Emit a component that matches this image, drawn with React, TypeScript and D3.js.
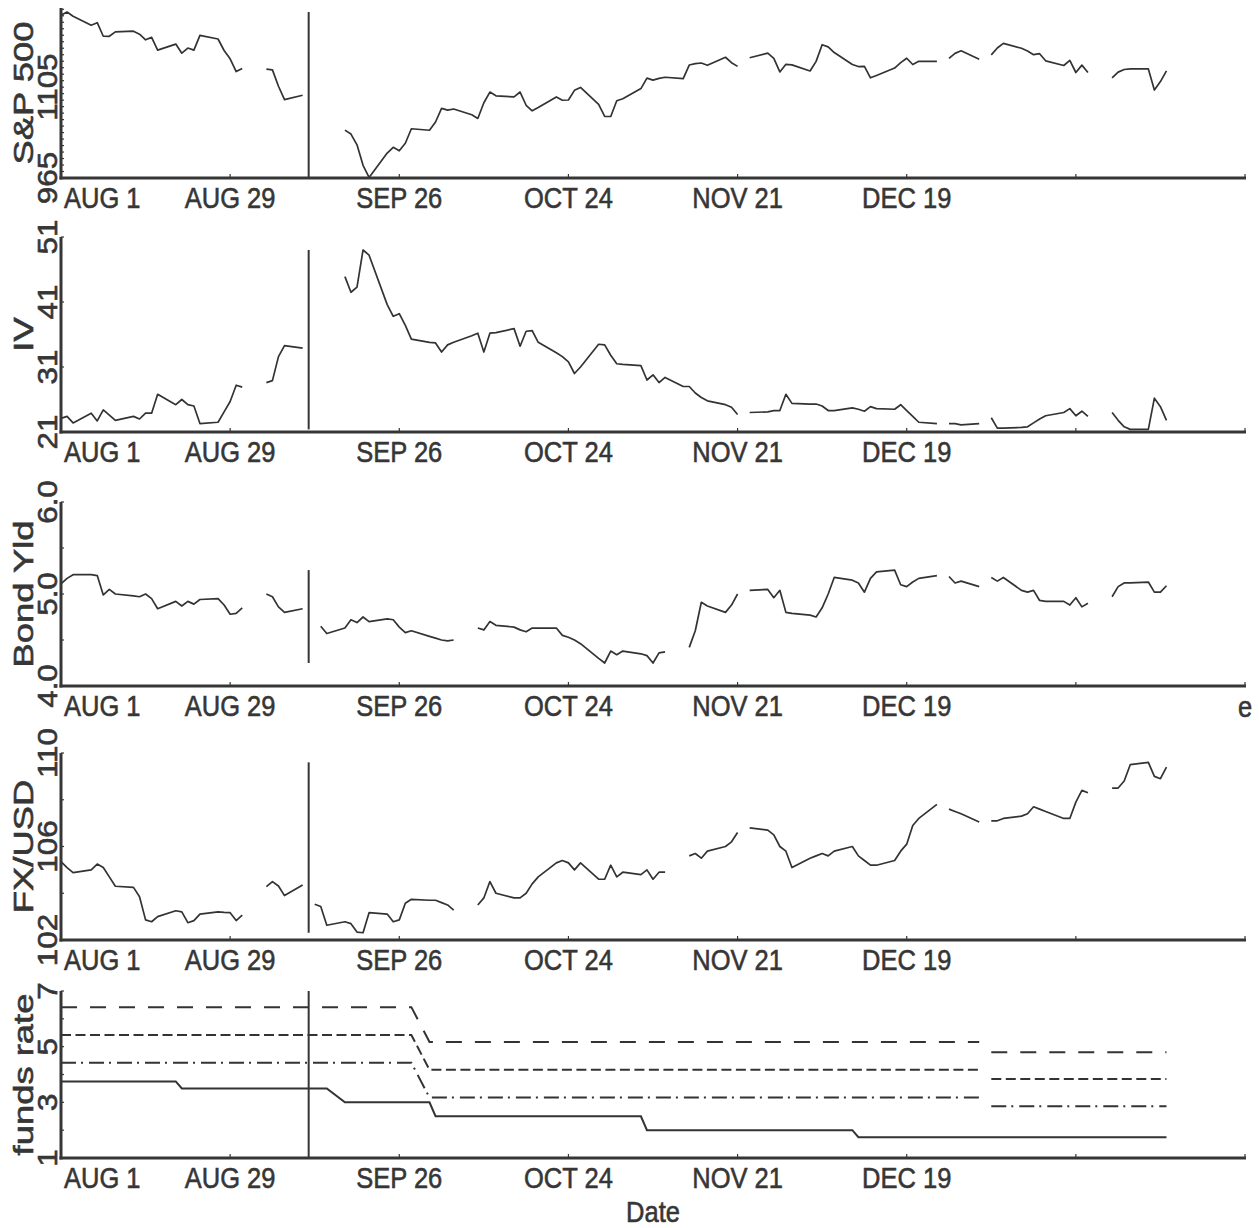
import React from "react";
import * as d3 from "d3";

const W = 1259;
const H = 1228;
const INK = "#363636";
const FONT = "'Liberation Sans', Arial, sans-serif";

// one slot per weekday, Aug 1 2001 .. Jan 31 2002; null = market closed
const spxAug = [1215.9, 1220.8, 1214.4, 1200.5, 1204.4, 1183.5, 1183.4, 1190.2, 1191.3, 1186.7, 1178.0, 1181.7, 1162.0, 1171.4, 1157.3, 1165.3, 1162.1, 1184.9, 1179.2, 1161.5, 1148.6, 1129.0, 1133.6];
const spxSep = [null, 1132.9, 1131.7, 1106.4, 1085.8, 1092.5, null, null, null, null, 1038.8, 1032.7, 1016.1, 984.5, 965.8, 1003.4, 1012.3, 1007.0, 1018.6, 1040.9];
const spxOct = [1038.6, 1051.3, 1072.3, 1069.6, 1071.4, 1062.4, 1056.8, 1081.0, 1097.4, 1091.7, 1090.0, 1097.5, 1077.1, 1068.6, 1073.5, 1089.9, 1084.8, 1085.2, 1100.1, 1104.6, 1078.3, 1059.8, 1059.8];
const spxNov = [1084.1, 1087.2, 1102.8, 1118.9, 1115.8, 1118.5, 1120.3, 1118.3, 1139.1, 1141.2, 1142.2, 1138.7, 1151.1, 1142.7, 1137.0, null, 1150.3, 1157.4, 1149.5, 1128.5, 1140.2, 1139.4];
const spxDec = [1129.9, 1144.8, 1170.4, 1167.1, 1158.3, 1139.9, 1136.8, 1137.1, 1119.4, 1123.1, 1134.4, 1142.9, 1149.6, 1139.9, 1144.9, 1144.7, null, 1149.4, 1157.1, 1161.0, 1148.1];
const spxJan = [null, 1154.7, 1165.3, 1172.5, 1164.9, 1160.7, 1155.1, 1156.6, 1145.6, 1138.4, 1146.2, 1127.6, 1138.9, 1127.6, null, 1119.3, 1128.2, 1132.2, 1133.3, 1133.1, 1100.6, 1113.6, 1130.2];

const ivAug = [23.1, 23.4, 22.4, 23.9, 22.7, 24.4, 23.6, 22.8, 23.4, 23.0, 23.9, 23.9, 26.8, 25.2, 26.0, 25.2, 25.0, 22.3, 22.5, 24.1, 25.7, 28.2, 27.9];
const ivSep = [null, 28.6, 28.9, 32.6, 34.3, 33.9, null, null, null, null, 44.9, 42.5, 43.3, 49.0, 48.2, 40.6, 38.8, 39.2, 37.4, 35.3];
const ivOct = [34.8, 34.7, 33.3, 34.4, 34.8, 35.8, 36.2, 33.3, 36.2, 36.3, 36.9, 34.2, 36.5, 36.6, 34.8, 33.2, 32.6, 31.8, 30.0, 31.0, 34.5, 34.4, 32.8];
const ivNov = [31.5, 31.4, 31.2, 29.0, 29.8, 28.6, 29.4, 28.0, 28.0, 27.0, 26.3, 25.8, 25.2, 24.8, 23.7, null, 24.0, 24.1, 24.3, 24.3, 26.8, 25.4];
const ivDec = [25.3, 25.3, 25.0, 24.3, 24.3, 24.7, 24.5, 24.2, 24.9, 24.6, 24.5, 25.2, 24.3, 23.4, 22.5, 22.3, null, 22.3, 22.3, 22.1, 22.3];
const ivJan = [null, 23.2, 21.6, 21.6, 21.7, 21.8, 22.4, 23.0, 23.5, 24.0, 24.6, 23.5, 24.2, 23.4, null, 24.0, 22.8, 21.8, 21.4, 21.4, 26.2, 24.9, 22.8];

const bondAug = [5.11, 5.17, 5.21, 5.21, 5.20, 4.99, 5.05, 5.00, 4.98, 4.97, 5.00, 4.95, 4.84, 4.92, 4.87, 4.92, 4.89, 4.94, 4.95, 4.88, 4.78, 4.79, 4.85];
const bondSep = [null, 5.00, 4.97, 4.86, 4.80, 4.84, null, null, 4.65, 4.57, 4.63, 4.72, 4.69, 4.75, 4.70, 4.73, 4.72, 4.64, 4.58, 4.60];
const bondOct = [4.54, 4.52, 4.50, 4.49, 4.50, null, 4.63, 4.61, 4.70, 4.66, 4.64, 4.61, 4.59, 4.63, 4.63, 4.63, 4.55, 4.53, 4.50, 4.46, 4.30, 4.25, 4.38];
const bondNov = [4.34, 4.38, 4.35, 4.33, 4.25, 4.36, 4.37, null, 4.42, 4.60, 4.91, 4.87, 4.80, 4.88, 5.00, null, 5.04, 5.05, 4.96, 5.04, 4.80, 4.79];
const bondDec = [4.77, 4.75, 4.85, 5.00, 5.18, 5.15, 5.12, 5.02, 5.17, 5.24, 5.26, 5.10, 5.08, 5.13, 5.17, 5.20, null, 5.19, 5.12, 5.14, 5.08];
const bondJan = [null, 5.18, 5.14, 5.18, 5.04, 5.02, 5.04, 4.93, 4.92, 4.92, 4.88, 4.96, 4.86, 4.90, null, 4.97, 5.08, 5.12, 5.12, 5.13, 5.02, 5.02, 5.09];

const fxAug = [105.35, 105.1, 104.88, 105.0, 105.25, 105.1, 104.7, 104.3, 104.25, 103.85, 102.86, 102.78, 103.0, 103.25, 103.2, 102.74, 102.83, 103.11, 103.2, 103.18, 103.17, 102.83, 103.06];
const fxSep = [null, 104.28, 104.5, 104.31, 103.9, 104.35, null, 103.53, 103.43, 102.63, 102.78, 102.7, 102.34, 102.31, 103.17, 103.11, 102.78, 102.86, 103.57, 103.74];
const fxOct = [103.7, 103.7, 103.6, 103.5, 103.28, null, 103.5, 103.8, 104.5, 104.0, 103.8, 103.8, 104.0, 104.4, 104.7, 105.3, 105.4, 105.3, 105.0, 105.3, 104.6, 104.6, 105.2];
const fxNov = [104.7, 104.9, 104.8, 105.0, 104.6, 104.9, 104.9, null, 105.6, 105.7, 105.5, 105.8, 106.0, 106.2, 106.6, null, 106.8, 106.7, 106.5, 106.0, 105.8, 105.1];
const fxDec = [105.5, 105.6, 105.7, 105.6, 105.8, 106.0, 105.6, 105.4, 105.2, 105.2, 105.4, 105.8, 106.1, 106.9, 107.2, 107.8, null, 107.6, 107.5, 107.4, 107.05];
const fxJan = [null, 107.1, 107.1, 107.2, 107.3, 107.4, 107.7, 107.6, 107.5, 107.2, 107.2, 107.9, 108.4, 108.3, null, 108.5, 108.5, 108.8, 109.5, 109.6, 109.0, 108.9, 109.4];

// funds rate: vertices of the step lines [date, value]
const fundsTarget: [string, number][] = [["2001-08-01", 3.75], ["2001-08-20", 3.75], ["2001-08-21", 3.5], ["2001-09-14", 3.5], ["2001-09-17", 3.0], ["2001-10-01", 3.0], ["2001-10-02", 2.5], ["2001-11-05", 2.5], ["2001-11-06", 2.0], ["2001-12-10", 2.0], ["2001-12-11", 1.75], ["2002-01-31", 1.75]];
const fundsLow: [string, number][] = [["2001-08-01", 4.42], ["2001-09-28", 4.42], ["2001-10-01", 3.17], ["2001-12-31", 3.17], ["2002-01-01", NaN], ["2002-01-02", 2.86], ["2002-01-31", 2.86]];
const fundsMid: [string, number][] = [["2001-08-01", 5.42], ["2001-09-28", 5.42], ["2001-10-01", 4.17], ["2001-12-31", 4.17], ["2002-01-01", NaN], ["2002-01-02", 3.84], ["2002-01-31", 3.84]];
const fundsHigh: [string, number][] = [["2001-08-01", 6.42], ["2001-09-28", 6.42], ["2001-10-01", 5.17], ["2001-12-31", 5.17], ["2002-01-01", NaN], ["2002-01-02", 4.8], ["2002-01-31", 4.8]];

const xTickLabels = ["AUG 1", "AUG 29", "SEP 26", "OCT 24", "NOV 21", "DEC 19"];
const attackDate = "2001-09-11";

const parse = d3.utcParse("%Y-%m-%d");
const startDate = new Date(Date.UTC(2001, 7, 1));
const endDate = new Date(Date.UTC(2002, 1, 13));
const weekdays = d3.utcDay
  .range(startDate, new Date(Date.UTC(2002, 1, 1)))
  .filter((d) => d.getUTCDay() !== 0 && d.getUTCDay() !== 6);
// a tick every four weeks from the first day
const xTicks = d3.range(0, 8).map((i) => d3.utcDay.offset(startDate, 28 * i));

const x = d3.scaleUtc().domain([startDate, endDate]).range([61, 1245]);

type Pt = { d: Date; v: number };
const toPts = (vals: (number | null)[]): Pt[] =>
  weekdays.map((d, i) => ({ d, v: vals[i] == null ? NaN : (vals[i] as number) }));

const panels = [
  { label: "S&P 500", top: 8, bottom: 178, dom: [965, 1227], ticks: d3.range(965, 1227, 10), labels: [965, 1105], fmt: (v: number) => String(v), data: toPts([...spxAug, ...spxSep, ...spxOct, ...spxNov, ...spxDec, ...spxJan]) },
  { label: "IV", top: 237, bottom: 432, dom: [21, 51], ticks: [21, 31, 41, 51], labels: [21, 31, 41, 51], fmt: (v: number) => String(v), data: toPts([...ivAug, ...ivSep, ...ivOct, ...ivNov, ...ivDec, ...ivJan]) },
  { label: "Bond Yld", top: 502, bottom: 686, dom: [4, 6], ticks: [4, 4.5, 5, 5.5, 6], labels: [4, 5, 6], fmt: (v: number) => v.toFixed(1), data: toPts([...bondAug, ...bondSep, ...bondOct, ...bondNov, ...bondDec, ...bondJan]) },
  { label: "FX/USD", top: 753, bottom: 940, dom: [102, 110], ticks: [102, 104, 106, 108, 110], labels: [102, 106, 110], fmt: (v: number) => String(v), data: toPts([...fxAug, ...fxSep, ...fxOct, ...fxNov, ...fxDec, ...fxJan]) },
];
const fundsPanel = { label: "funds rate", top: 991, bottom: 1158, dom: [1, 7], ticks: [1, 2, 3, 4, 5, 6, 7], labels: [1, 3, 5, 7] };

const fundsSeries = [
  { pts: fundsHigh, dash: "16 13" },
  { pts: fundsMid, dash: "10 4.5" },
  { pts: fundsLow, dash: "15 5 2 6" },
  { pts: fundsTarget, dash: null },
];

function HText({ x, y, anchor = "middle", children }: any) {
  return (
    <text transform={`translate(${x},${y}) scale(0.85,1)`} textAnchor={anchor} fontSize={30} fontFamily={FONT} fill={INK} stroke={INK} strokeWidth={0.6}>
      {children}
    </text>
  );
}

function VText({ x, y, stretch, children }: any) {
  return (
    <text transform={`translate(${x},${y}) rotate(-90) scale(${stretch},1)`} textAnchor="middle" fontSize={28} fontFamily={FONT} fill={INK} stroke={INK} strokeWidth={0.6}>
      {children}
    </text>
  );
}

function Frame({ p, y }: { p: any; y: d3.ScaleLinear<number, number> }) {
  return (
    <g>
      {p.ticks.map((t: number) => (
        <line key={"yt" + t} x1={61} x2={64} y1={y(t)} y2={y(t)} stroke={INK} strokeWidth={1.2} />
      ))}
      {xTicks.map((t) => (
        <line key={"xt" + t.getTime()} x1={x(t)} x2={x(t)} y1={p.bottom} y2={p.bottom - 4} stroke={INK} strokeWidth={1.2} />
      ))}
      <line x1={61} x2={61} y1={p.top} y2={p.bottom + 1.5} stroke={INK} strokeWidth={3} />
      <line x1={59.5} x2={1246} y1={p.bottom} y2={p.bottom} stroke={INK} strokeWidth={3} />
      {p.labels.map((t: number) => (
        <VText key={"yl" + t} x={57} y={y(t)} stretch={1.12}>
          {p.fmt ? p.fmt(t) : String(t)}
        </VText>
      ))}
      <VText x={33} y={(p.top + p.bottom) / 2} stretch={1.3}>
        {p.label}
      </VText>
      {xTickLabels.map((lab, i) => (
        <HText key={lab} x={i === 0 ? 64 : x(xTicks[i])} y={p.bottom + 30} anchor={i === 0 ? "start" : "middle"}>
          {lab}
        </HText>
      ))}
    </g>
  );
}

export default function App() {
  const xs = x(parse(attackDate)!);
  return (
    <svg width={W} height={H} style={{ position: "absolute", left: 0, top: 0, background: "#fff" }}>
      <rect width={W} height={H} fill="#fff" />
      {panels.map((p) => {
        const y = d3.scaleLinear().domain(p.dom).range([p.bottom, p.top]);
        const line = d3
          .line<Pt>()
          .defined((d) => !isNaN(d.v))
          .x((d) => x(d.d))
          .y((d) => y(d.v));
        const ext = d3.extent(p.data.filter((d) => !isNaN(d.v)), (d) => d.v) as [number, number];
        return (
          <g key={p.label}>
            <path d={line(p.data) ?? ""} fill="none" stroke="#333" strokeWidth={1.7} strokeLinejoin="round" />
            <line x1={xs} x2={xs} y1={y(ext[0])} y2={y(ext[1])} stroke={INK} strokeWidth={2} />
            <Frame p={p} y={y} />
          </g>
        );
      })}
      {(() => {
        const p = fundsPanel;
        const y = d3.scaleLinear().domain(p.dom).range([p.bottom, p.top]);
        const line = d3
          .line<[string, number]>()
          .defined((d) => !isNaN(d[1]))
          .x((d) => x(parse(d[0])!))
          .y((d) => y(d[1]));
        return (
          <g>
            {fundsSeries.map((s, i) => (
              <path key={i} d={line(s.pts) ?? ""} fill="none" stroke="#333" strokeWidth={2} strokeDasharray={s.dash ?? undefined} />
            ))}
            <line x1={xs} x2={xs} y1={p.bottom} y2={p.top} stroke={INK} strokeWidth={2} />
            <Frame p={p} y={y} />
          </g>
        );
      })()}
      <HText x={653} y={1222}>Date</HText>
      <HText x={1245} y={717}>e</HText>
    </svg>
  );
}
